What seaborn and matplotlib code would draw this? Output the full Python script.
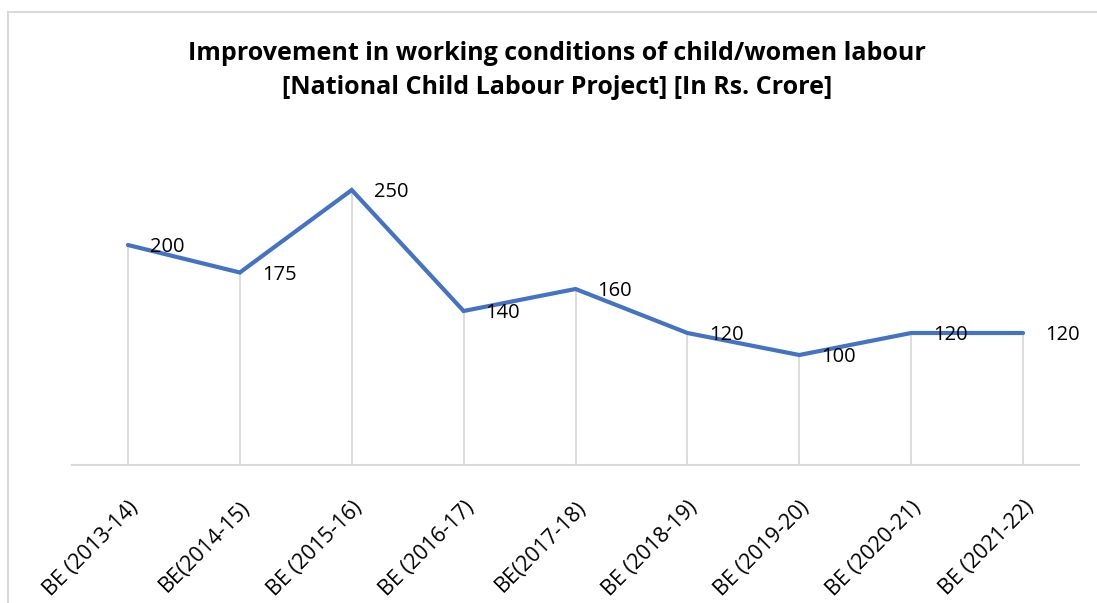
import matplotlib
matplotlib.use("Agg")
import matplotlib.pyplot as plt
import matplotlib.patches as mpatches
import seaborn as sns
import pandas as pd

categories = ["BE (2013-14)", "BE(2014-15)", "BE (2015-16)", "BE (2016-17)", "BE(2017-18)",
              "BE (2018-19)", "BE (2019-20)", "BE (2020-21)", "BE (2021-22)"]
values = [200, 175, 250, 140, 160, 120, 100, 120, 120]
title_lines = ["Improvement in working conditions of child/women labour",
               "[National Child Labour Project] [In Rs. Crore]"]

sns.set_theme(style="white")
plt.rcParams["font.family"] = ["Open Sans", "DejaVu Sans"]

W, H = 1097, 603
fig = plt.figure(figsize=(W / 100, H / 100), dpi=100)
ax = fig.add_axes([72 / W, 138 / H, (1079 - 72) / W, (465 - 135) / H])

df = pd.DataFrame({"cat": categories, "val": values})
sns.lineplot(data=df, x="cat", y="val", ax=ax, color="#4472C4", linewidth=3.0,
             sort=False, solid_capstyle="round", solid_joinstyle="miter", zorder=3)

xs = list(range(len(categories)))
ax.vlines(xs, 0, values, colors="#d9d9d9", linewidth=1.3, zorder=1)

for i, v in enumerate(values):
    ax.annotate(str(v), (i, v), xytext=(22, -2), textcoords="offset pixels",
                ha="left", va="center", fontsize=14.5, color="#000000", zorder=4)

ax.set_xlim(-0.5, len(categories) - 0.5)
ax.set_ylim(0, 300)
ax.set_yticks([])
ax.set_xticks(xs)
ax.set_xticklabels(categories, rotation=45, ha="right", rotation_mode="anchor",
                   fontsize=15.5, color="#000000")
ax.tick_params(axis="x", length=0, pad=23)
ax.set_xlabel("")
ax.set_ylabel("")
for s in ["top", "right", "left"]:
    ax.spines[s].set_visible(False)
ax.spines["bottom"].set_color("#d9d9d9")
ax.spines["bottom"].set_linewidth(1.5)
ax.spines["bottom"].set_zorder(0)

fig.text(557 / W, 1 - 53 / H, title_lines[0], ha="center", va="center",
         fontsize=18, fontweight="bold", color="#000000")
fig.text(557 / W, 1 - 88 / H, title_lines[1], ha="center", va="center",
         fontsize=18, fontweight="bold", color="#000000")

border = mpatches.Rectangle((8 / W, -0.05), 1.2, 1 - 12 / H + 0.05, transform=fig.transFigure,
                            fill=False, edgecolor="#d9d9d9", linewidth=1.5)
fig.patches.append(border)

fig.savefig("out.png", dpi=100, facecolor="white")
